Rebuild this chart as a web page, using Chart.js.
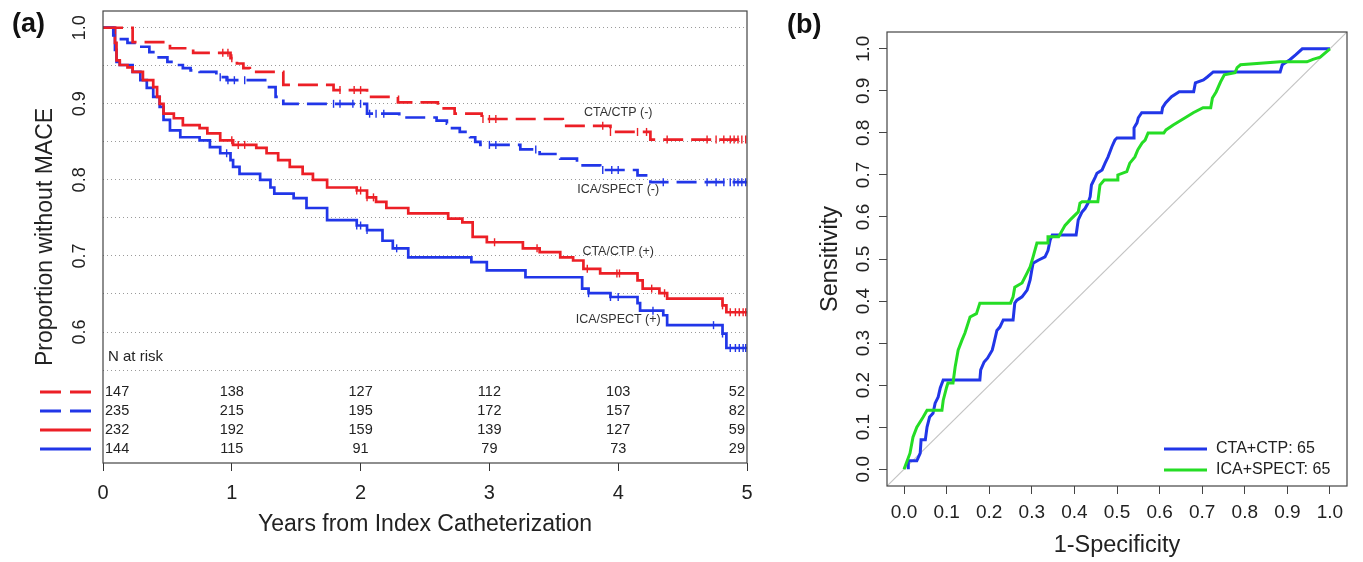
<!DOCTYPE html>
<html>
<head>
<meta charset="utf-8">
<script src="https://cdn.jsdelivr.net/npm/chart.js@4.4.1/dist/chart.umd.min.js"></script>
<style>
  html, body { margin: 0; padding: 0; background: #fff; width: 1363px; height: 562px; overflow: hidden; }
  #kmWrap { position: absolute; left: 0; top: 0; width: 770px; height: 562px; }
  #rocWrap { position: absolute; left: 770px; top: 0; width: 593px; height: 562px; }
</style>
</head>
<body>
<div id="kmWrap"><canvas id="kmChart" width="770" height="562"></canvas></div>
<div id="rocWrap"><canvas id="rocChart" width="593" height="562"></canvas></div>
<script>
const FONT = '"Liberation Sans", Arial, Helvetica, sans-serif';
const RED = '#ec1f26', BLUE = '#2136e8', GREEN = '#25dd25';

// ---- (a) Kaplan-Meier: drop times (years) and survival after each drop ----
const ctaNegT = [0, 0.23, 0.52, 0.70, 0.99, 1.04, 1.09, 1.14, 1.40, 1.79, 2.05, 2.29, 2.60, 2.73, 2.94, 3.57, 3.94, 4.25, 5.0];
const ctaNegS = [1.0, 0.981, 0.973, 0.967, 0.96, 0.953, 0.947, 0.942, 0.925, 0.918, 0.909, 0.902, 0.894, 0.887, 0.88, 0.871, 0.863, 0.853, 0.853];
const icaNegT = [0, 0.08, 0.12, 0.19, 0.26, 0.36, 0.42, 0.50, 0.55, 0.62, 0.68, 0.75, 0.88, 0.96, 1.27, 1.34, 1.40, 2.05, 2.30, 2.59, 2.67, 2.71, 2.77, 2.85, 2.89, 2.93, 3.24, 3.39, 3.55, 3.68, 3.86, 4.15, 4.25, 5.0];
const icaNegS = [1.0, 0.99, 0.985, 0.98, 0.975, 0.968, 0.961, 0.955, 0.951, 0.947, 0.944, 0.942, 0.935, 0.931, 0.922, 0.909, 0.90, 0.887, 0.882, 0.878, 0.874, 0.868, 0.863, 0.856, 0.85, 0.846, 0.84, 0.834, 0.828, 0.819, 0.813, 0.806, 0.797, 0.797];
const ctaPosT = [0, 0.093, 0.105, 0.13, 0.19, 0.23, 0.31, 0.39, 0.42, 0.44, 0.47, 0.55, 0.62, 0.75, 0.81, 0.91, 1.01, 1.19, 1.27, 1.36, 1.45, 1.55, 1.63, 1.74, 1.97, 2.05, 2.12, 2.20, 2.37, 2.68, 2.79, 2.87, 2.98, 3.26, 3.39, 3.55, 3.65, 3.73, 3.86, 4.15, 4.19, 4.32, 4.38, 4.81, 4.84, 5.0];
const ctaPosS = [1.0, 0.98, 0.957, 0.951, 0.948, 0.942, 0.931, 0.922, 0.909, 0.90, 0.887, 0.881, 0.872, 0.868, 0.861, 0.852, 0.846, 0.842, 0.835, 0.826, 0.817, 0.808, 0.80, 0.79, 0.786, 0.777, 0.771, 0.763, 0.756, 0.749, 0.744, 0.725, 0.718, 0.71, 0.705, 0.698, 0.694, 0.683, 0.677, 0.668, 0.657, 0.651, 0.644, 0.635, 0.626, 0.626];
const icaPosT = [0, 0.093, 0.105, 0.13, 0.23, 0.29, 0.34, 0.39, 0.44, 0.47, 0.52, 0.60, 0.75, 0.83, 0.91, 0.99, 1.01, 1.06, 1.22, 1.30, 1.33, 1.48, 1.58, 1.74, 1.97, 2.05, 2.17, 2.25, 2.37, 2.86, 2.98, 3.28, 3.72, 3.77, 3.94, 4.15, 4.17, 4.35, 4.38, 4.81, 4.84, 5.0];
const icaPosS = [1.0, 0.971, 0.955, 0.951, 0.942, 0.931, 0.921, 0.909, 0.896, 0.879, 0.865, 0.856, 0.852, 0.843, 0.835, 0.826, 0.817, 0.808, 0.80, 0.79, 0.782, 0.776, 0.763, 0.747, 0.74, 0.734, 0.72, 0.71, 0.698, 0.692, 0.681, 0.672, 0.657, 0.651, 0.646, 0.638, 0.628, 0.622, 0.609, 0.598, 0.579, 0.579];

// censoring times
const ctaNegC = [0.93, 0.97, 1.0, 1.84, 1.95, 2.0, 2.95, 3.0, 3.05, 3.88, 3.94, 4.15, 4.22, 4.38, 4.69, 4.76, 4.82, 4.87, 4.9, 4.93, 4.96, 4.99];
const icaNegC = [0.91, 0.97, 1.02, 1.1, 1.79, 1.84, 1.94, 2.0, 2.07, 2.12, 2.18, 3.0, 3.05, 3.36, 3.88, 3.95, 4.0, 4.35, 4.69, 4.76, 4.82, 4.87, 4.9, 4.93, 4.96, 4.99];
const ctaPosC = [1.0, 1.05, 1.1, 1.97, 2.0, 2.05, 2.1, 3.04, 3.37, 3.76, 3.99, 4.01, 4.26, 4.36, 4.81, 4.87, 4.91, 4.94, 4.97, 4.99];
const icaPosC = [0.96, 1.97, 2.0, 2.05, 2.28, 3.77, 3.94, 4.0, 4.27, 4.74, 4.81, 4.87, 4.91, 4.94, 4.97, 4.99];

const kmXTicks = [0, 1, 2, 3, 4, 5];
const kmYTicks = [0.55, 0.6, 0.65, 0.7, 0.75, 0.8, 0.85, 0.9, 0.95, 1.0];
const kmYLabels = [0.6, 0.7, 0.8, 0.9, 1.0];
const curveNames = ['CTA/CTP (-)', 'ICA/SPECT (-)', 'CTA/CTP (+)', 'ICA/SPECT (+)'];
const curveLabelY = [0.888, 0.787, 0.706, 0.617];

// number at risk
const riskTimes = [0, 1, 2, 3, 4, 5];
const riskCtaNeg = [147, 138, 127, 112, 103, 52];
const riskIcaNeg = [235, 215, 195, 172, 157, 82];
const riskCtaPos = [232, 192, 159, 139, 127, 59];
const riskIcaPos = [144, 115, 91, 79, 73, 29];

// ---- (b) ROC ----
const ctaFpr = [0.01, 0.01, 0.03, 0.038, 0.04, 0.05, 0.054, 0.06, 0.068, 0.073, 0.08, 0.085, 0.092, 0.178, 0.18, 0.188, 0.196, 0.207, 0.21, 0.218, 0.225, 0.233, 0.256, 0.26, 0.265, 0.277, 0.289, 0.296, 0.30, 0.303, 0.315, 0.331, 0.338, 0.343, 0.348, 0.378, 0.404, 0.409, 0.418, 0.425, 0.432, 0.437, 0.44, 0.449, 0.453, 0.465, 0.472, 0.479, 0.488, 0.495, 0.50, 0.54, 0.54, 0.547, 0.55, 0.558, 0.605, 0.607, 0.614, 0.628, 0.646, 0.68, 0.684, 0.703, 0.712, 0.726, 0.883, 0.888, 0.906, 0.92, 0.935, 1.0];
const ctaSens = [0.0, 0.02, 0.02, 0.038, 0.07, 0.07, 0.10, 0.124, 0.133, 0.157, 0.171, 0.193, 0.212, 0.212, 0.236, 0.255, 0.264, 0.283, 0.295, 0.33, 0.338, 0.355, 0.355, 0.395, 0.402, 0.41, 0.426, 0.45, 0.474, 0.49, 0.497, 0.505, 0.52, 0.545, 0.557, 0.557, 0.557, 0.593, 0.612, 0.62, 0.633, 0.648, 0.676, 0.695, 0.704, 0.712, 0.728, 0.743, 0.767, 0.783, 0.788, 0.788, 0.812, 0.824, 0.836, 0.848, 0.848, 0.86, 0.871, 0.886, 0.898, 0.898, 0.919, 0.926, 0.933, 0.945, 0.945, 0.962, 0.974, 0.986, 1.0, 1.0];
const icaFpr = [0.0, 0.014, 0.021, 0.03, 0.045, 0.054, 0.089, 0.092, 0.10, 0.103, 0.115, 0.12, 0.127, 0.136, 0.143, 0.155, 0.17, 0.178, 0.25, 0.256, 0.26, 0.277, 0.289, 0.296, 0.303, 0.312, 0.338, 0.338, 0.363, 0.378, 0.39, 0.409, 0.413, 0.418, 0.455, 0.46, 0.47, 0.50, 0.502, 0.523, 0.53, 0.542, 0.549, 0.559, 0.566, 0.573, 0.61, 0.615, 0.632, 0.66, 0.679, 0.702, 0.72, 0.724, 0.733, 0.743, 0.752, 0.777, 0.782, 0.79, 0.883, 0.946, 0.96, 0.977, 1.0];
const icaSens = [0.0, 0.038, 0.076, 0.10, 0.124, 0.14, 0.14, 0.164, 0.195, 0.205, 0.205, 0.243, 0.283, 0.307, 0.324, 0.362, 0.37, 0.395, 0.395, 0.41, 0.433, 0.443, 0.467, 0.481, 0.505, 0.538, 0.538, 0.553, 0.553, 0.58, 0.593, 0.612, 0.633, 0.636, 0.636, 0.676, 0.688, 0.688, 0.70, 0.708, 0.728, 0.743, 0.76, 0.776, 0.783, 0.80, 0.80, 0.807, 0.819, 0.836, 0.848, 0.86, 0.86, 0.883, 0.898, 0.921, 0.938, 0.943, 0.955, 0.962, 0.969, 0.969, 0.975, 0.98, 1.0];
const rocTicks = [0.0, 0.1, 0.2, 0.3, 0.4, 0.5, 0.6, 0.7, 0.8, 0.9, 1.0];
const rocLegend = ['CTA+CTP: 65', 'ICA+SPECT: 65'];

Chart.defaults.font.family = FONT;
Chart.defaults.color = '#222';

function survAt(ts, ss, t) {
  let v = ss[0];
  for (let i = 0; i < ts.length; i++) { if (ts[i] <= t) v = ss[i]; }
  return v;
}
function pts(xs, ys) { return xs.map((x, i) => ({ x: x, y: ys[i] })); }
// keep the plot box exactly where the layout padding puts it
function noPad(s) { s.paddingTop = 0; s.paddingBottom = 0; s.paddingLeft = 0; s.paddingRight = 0; }

const boxPlugin = {
  id: 'box',
  afterDatasetsDraw(chart) {
    const { ctx, chartArea: a } = chart;
    ctx.save();
    ctx.strokeStyle = '#444'; ctx.lineWidth = 1.2;
    ctx.strokeRect(a.left, a.top, a.right - a.left, a.bottom - a.top);
    ctx.restore();
  }
};

// ---------- panel (a) ----------
const kmSeries = [
  { t: ctaNegT, s: ctaNegS, c: ctaNegC, color: RED, dash: [20, 8], risk: riskCtaNeg },
  { t: icaNegT, s: icaNegS, c: icaNegC, color: BLUE, dash: [20, 8], risk: riskIcaNeg },
  { t: ctaPosT, s: ctaPosS, c: ctaPosC, color: RED, dash: [], risk: riskCtaPos },
  { t: icaPosT, s: icaPosS, c: icaPosC, color: BLUE, dash: [], risk: riskIcaPos }
];
const kmDatasets = [];
kmSeries.forEach(k => {
  kmDatasets.push({ data: pts(k.t, k.s), borderColor: k.color, borderWidth: 2.7, borderDash: k.dash,
    stepped: 'before', pointRadius: 0, fill: false });
  kmDatasets.push({ data: k.c.map(t => ({ x: t, y: survAt(k.t, k.s, t) })), showLine: false,
    pointStyle: 'line', rotation: 90, pointRadius: 4, borderColor: k.color, borderWidth: 1.4 });
});

const kmText = {
  id: 'kmText',
  afterDraw(chart) {
    const { ctx, chartArea: a } = chart;
    const xs = chart.scales.x, ys = chart.scales.y;
    ctx.save();
    ctx.fillStyle = '#111';
    ctx.font = 'bold 27px ' + FONT; ctx.textAlign = 'left'; ctx.textBaseline = 'middle';
    ctx.fillText('(a)', 12, 25);
    ctx.fillStyle = '#333';
    ctx.font = '12.5px ' + FONT; ctx.textAlign = 'center';
    curveNames.forEach((n, i) => ctx.fillText(n, xs.getPixelForValue(4.0), ys.getPixelForValue(curveLabelY[i])));
    ctx.fillStyle = '#222';
    ctx.font = '15px ' + FONT; ctx.textAlign = 'left';
    ctx.fillText('N at risk', a.left + 5, 357);
    ctx.font = '14.5px ' + FONT;
    kmSeries.forEach((k, r) => {
      const y = 392 + r * 19;
      riskTimes.forEach((t, i) => {
        const px = xs.getPixelForValue(t);
        if (i === 0) { ctx.textAlign = 'left'; ctx.fillText(k.risk[i], px + 2, y); }
        else if (i === riskTimes.length - 1) { ctx.textAlign = 'right'; ctx.fillText(k.risk[i], px - 2, y); }
        else { ctx.textAlign = 'center'; ctx.fillText(k.risk[i], px, y); }
      });
      ctx.beginPath();
      ctx.strokeStyle = k.color; ctx.lineWidth = 2.8; ctx.setLineDash(k.dash.length ? [21, 9] : []);
      ctx.moveTo(40, y); ctx.lineTo(91, y); ctx.stroke();
      ctx.setLineDash([]);
    });
    ctx.restore();
  }
};

new Chart(document.getElementById('kmChart'), {
  type: 'line',
  data: { datasets: kmDatasets },
  plugins: [boxPlugin, kmText],
  options: {
    responsive: false, animation: false, devicePixelRatio: 1,
    layout: { padding: { top: 11, right: 23, left: 0, bottom: 0 } },
    plugins: { legend: { display: false }, tooltip: { enabled: false } },
    scales: {
      x: {
        type: 'linear', min: 0, max: 5,
        afterBuildTicks: s => { s.ticks = kmXTicks.map(v => ({ value: v })); },
        afterFit: s => { s.height = 99; noPad(s); },
        ticks: { font: { size: 20 }, color: '#222', padding: 10, autoSkip: false, maxRotation: 0 },
        grid: { drawOnChartArea: false, drawTicks: true, tickLength: 8, color: '#333', tickColor: '#333' },
        border: { display: false },
        title: { display: true, text: 'Years from Index Catheterization', font: { size: 23 }, color: '#222',
          padding: { top: 0, bottom: 24 } }
      },
      y: {
        type: 'linear', min: 0.4278, max: 1.022,
        afterBuildTicks: s => { s.ticks = kmYTicks.map(v => ({ value: v })); },
        afterFit: s => { s.width = 103; noPad(s); },
        ticks: { font: { size: 18 }, color: '#222', minRotation: 90, maxRotation: 90, crossAlign: 'center',
          padding: 10.5, autoSkip: false,
          callback: v => kmYLabels.some(l => Math.abs(l - v) < 1e-6) ? v.toFixed(1) : '' },
        grid: { drawTicks: false, color: '#9a9a9a', lineWidth: 1 },
        border: { display: false, dash: [1, 3] },
        title: { display: true, text: 'Proportion without MACE', font: { size: 23 }, color: '#222',
          padding: { top: 32, bottom: 0 } }
      }
    }
  }
});

// ---------- panel (b) ----------
const rocText = {
  id: 'rocText',
  afterDraw(chart) {
    const { ctx } = chart;
    ctx.save();
    ctx.fillStyle = '#111';
    ctx.font = 'bold 27px ' + FONT; ctx.textAlign = 'left'; ctx.textBaseline = 'middle';
    ctx.fillText('(b)', 17, 26);
    ctx.fillStyle = '#222';
    ctx.font = '16px ' + FONT;
    [BLUE, GREEN].forEach((c, i) => {
      const y = 449 + i * 21;
      ctx.beginPath(); ctx.strokeStyle = c; ctx.lineWidth = 3;
      ctx.moveTo(394, y); ctx.lineTo(437, y); ctx.stroke();
      ctx.fillText(rocLegend[i], 446, y);
    });
    ctx.restore();
  }
};

new Chart(document.getElementById('rocChart'), {
  type: 'line',
  data: {
    datasets: [
      { data: pts(icaFpr, icaSens), borderColor: GREEN, borderWidth: 3, pointRadius: 0, tension: 0, order: 0 },
      { data: pts(ctaFpr, ctaSens), borderColor: BLUE, borderWidth: 3, pointRadius: 0, tension: 0, order: 1 },
      { data: [{ x: -0.04, y: -0.04 }, { x: 1.04, y: 1.04 }], borderColor: '#c4c4c4', borderWidth: 1.2, pointRadius: 0, order: 2 }
    ]
  },
  plugins: [boxPlugin, rocText],
  options: {
    responsive: false, animation: false, devicePixelRatio: 1,
    layout: { padding: { top: 32, right: 16, left: 0, bottom: 0 } },
    plugins: { legend: { display: false }, tooltip: { enabled: false } },
    scales: {
      x: {
        type: 'linear', min: -0.04, max: 1.04,
        afterBuildTicks: s => { s.ticks = rocTicks.map(v => ({ value: v })); },
        afterFit: s => { s.height = 76; noPad(s); },
        ticks: { font: { size: 19 }, color: '#222', padding: 7.5, autoSkip: false, maxRotation: 0,
          callback: v => v.toFixed(1) },
        grid: { drawOnChartArea: false, drawTicks: true, tickLength: 8, color: '#444', tickColor: '#444' },
        border: { display: false },
        title: { display: true, text: '1-Specificity', font: { size: 23.5 }, color: '#222', padding: { top: 0, bottom: 2 } }
      },
      y: {
        type: 'linear', min: -0.04, max: 1.04,
        afterBuildTicks: s => { s.ticks = rocTicks.map(v => ({ value: v })); },
        afterFit: s => { s.width = 117; noPad(s); },
        ticks: { font: { size: 19 }, color: '#222', minRotation: 90, maxRotation: 90, crossAlign: 'center',
          padding: 2, autoSkip: false, callback: v => v.toFixed(1) },
        grid: { drawOnChartArea: false, drawTicks: true, tickLength: 8, color: '#444', tickColor: '#444' },
        border: { display: false },
        title: { display: true, text: 'Sensitivity', font: { size: 23.5 }, color: '#222', padding: { top: 46, bottom: 0 } }
      }
    }
  }
});
</script>
</body>
</html>
